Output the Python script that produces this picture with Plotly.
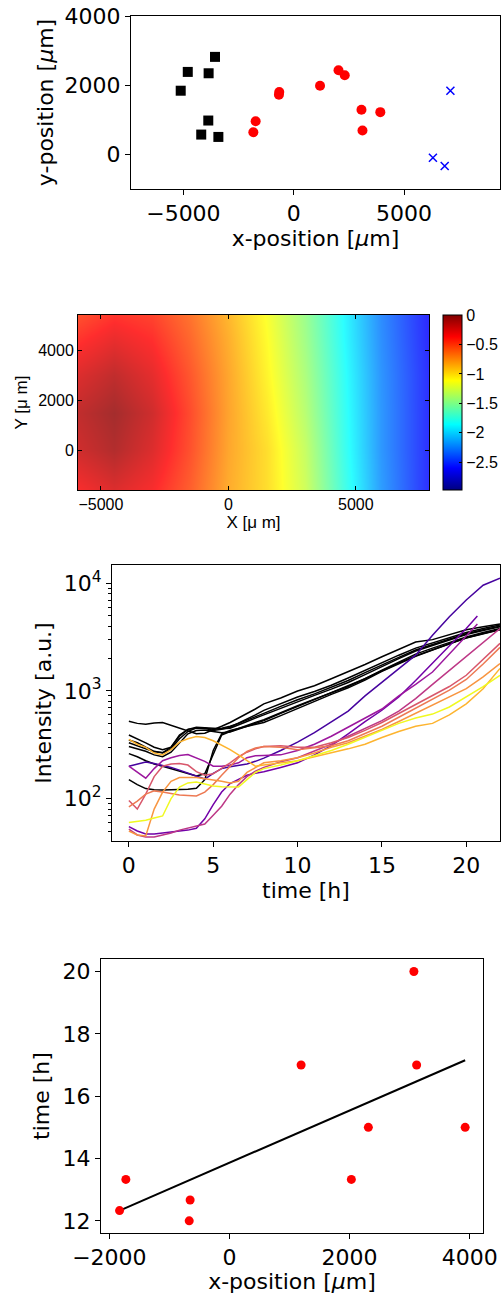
import numpy as np
import plotly.graph_objects as go

W, H = 504, 1294

# ---------------- Panel 1: positions ----------------
black_x = [-5122, -4802, -3567, -3857, -3872, -4192, -3415]
black_y = [1845, 2387, 2821, 2348, 985, 580, 512]
red_x = [-1830, -1725, -670, -655, 1193, 2030, 2313, 3071, 3117, 3925]
red_y = [647, 966, 1729, 1806, 1990, 2434, 2289, 1294, 696, 1227]
blue_x = [7102, 6309, 6843]
blue_y = [1845, -87, -328]

# ---------------- Panel 2: field ----------------
field_x = [-5900, -4500, -3000, -1500, 0, 1500, 3000, 4500, 6000, 7900]
field_y = [-1600, 0, 1500, 3000, 4500, 5400]
field_z = [
    [-0.35, -0.25, -0.35, -0.55, -0.82, -1.00, -1.28, -1.75, -2.20, -2.60],
    [-0.20, -0.10, -0.25, -0.50, -0.80, -1.00, -1.31, -1.78, -2.22, -2.60],
    [-0.15, -0.05, -0.20, -0.48, -0.79, -1.04, -1.36, -1.80, -2.22, -2.60],
    [-0.25, -0.15, -0.28, -0.52, -0.80, -1.08, -1.40, -1.82, -2.23, -2.60],
    [-0.40, -0.30, -0.38, -0.58, -0.83, -1.11, -1.44, -1.85, -2.25, -2.62],
    [-0.50, -0.40, -0.45, -0.62, -0.86, -1.13, -1.46, -1.86, -2.26, -2.63],
]
cbar_ticks = [0, -0.5, -1, -1.5, -2, -2.5]
cbar_text = ["0", "\u22120.5", "\u22121", "\u22121.5", "\u22122", "\u22122.5"]

# ---------------- Panel 3: intensity traces ----------------
T = [0, 0.5, 1, 1.5, 2, 2.5, 3, 3.5, 4, 4.5, 5, 5.5, 6, 6.5, 7, 7.5, 8,
     9, 10, 11, 12, 13, 14, 15, 16, 17, 18, 19, 20, 21, 22]
T_short = T[:-2] + [20.66]

black_lines = [
    [524, 500, 490, 505, 510, 480, 445, 420, 400, 405, 440, 470, 510, 560, 620, 680, 760,
     860, 1000, 1120, 1300, 1500, 1760, 2080, 2450, 2850, 3000, 3350, 3700, 3950, 4200],
    [390, 360, 330, 300, 285, 300, 380, 440, 450, 450, 440, 450, 470, 500, 540, 580, 620,
     720, 830, 940, 1080, 1250, 1480, 1750, 2050, 2400, 2700, 3050, 3400, 3700, 4000],
    [350, 330, 300, 275, 265, 290, 360, 420, 455, 450, 430, 440, 460, 500, 545, 600, 660,
     760, 880, 990, 1130, 1320, 1550, 1850, 2150, 2500, 2800, 3150, 3500, 3800, 4100],
    [330, 310, 290, 272, 268, 300, 390, 440, 460, 455, 445, 445, 450, 480, 520, 560, 600,
     700, 800, 910, 1040, 1200, 1420, 1700, 2000, 2350, 2650, 3000, 3350, 3650, 3950],
    [305, 290, 275, 255, 245, 270, 330, 400, 430, 435, 420, 410, 415, 440, 470, 500, 530,
     620, 720, 830, 960, 1110, 1300, 1560, 1850, 2200, 2500, 2820, 3180, 3500, 3800],
    [262, 245, 225, 210, 200, 190, 180, 170, 162, 170, 260, 390, 420, 450, 480, 510, 540,
     630, 730, 840, 960, 1100, 1300, 1550, 1820, 2120, 2420, 2750, 3100, 3400, 3700],
    [150, 135, 124, 121, 120, 121, 122, 122, 125, 150, 280, 400, 430, 450, 470, 490, 510,
     590, 690, 800, 930, 1070, 1260, 1520, 1800, 2100, 2400, 2750, 3120, 3420, 3720],
]

color_lines = [
    [200, 210, 219, 212, 204, 195, 184, 172, 160, 152, 172, 190, 198, 203, 210, 222, 238,
     280, 335, 410, 520, 650, 900, 1200, 1620, 2150, 3300, 4900, 7000, 9600, 11150],
    [55, 50, 47, 47, 48, 49, 50, 51, 53, 65, 88, 115, 138, 152, 165, 172, 178,
     195, 215, 255, 310, 400, 520, 662, 880, 1250, 1800, 2600, 3800, 4970],
    [200, 175, 155, 190, 225, 240, 252, 257, 240, 222, 200, 200, 205, 215, 240, 250, 252,
     255, 280, 320, 380, 463, 560, 680, 900, 1150, 1500, 2200, 3200, 4180],
    [52, 46, 44, 44, 46, 48, 51, 53, 55, 58, 70, 85, 110, 135, 160, 180, 195,
     220, 240, 275, 320, 380, 450, 530, 650, 850, 1150, 1550, 2050, 2800, 3800],
    [96, 80, 110, 160, 200, 210, 212, 205, 178, 165, 170, 190, 215, 245, 270, 290, 305,
     310, 300, 300, 330, 370, 430, 510, 620, 750, 900, 1100, 1400, 1950, 2770],
    [84, 95, 110, 118, 115, 112, 108, 107, 106, 115, 135, 165, 200, 240, 275, 295, 305,
     300, 285, 295, 310, 345, 400, 470, 570, 690, 840, 1020, 1280, 1780, 2540],
    [50, 46, 45, 80, 115, 145, 157, 157, 157, 153, 150, 145, 140, 145, 175, 195, 215,
     225, 240, 265, 300, 330, 380, 440, 520, 620, 740, 880, 1050, 1350, 1800],
    [355, 320, 299, 265, 255, 285, 335, 360, 378, 370, 345, 315, 285, 255, 225, 200, 205,
     215, 225, 245, 265, 290, 320, 370, 420, 470, 500, 600, 760, 1050, 1620],
    [60, 61, 63, 66, 69, 100, 128, 140, 143, 137, 131, 129, 128, 128, 150, 175, 190,
     205, 225, 250, 280, 320, 370, 430, 500, 560, 610, 710, 880, 1100, 1400],
]
color_line_colors = ["#46039f", "#7201a8", "#9c179e", "#bd3786", "#d8576b",
                     "#ed7953", "#f89540", "#fdb42f", "#f0f921"]
log_minor = [50, 60, 70, 80, 90, 200, 300, 400, 500, 600, 700, 800, 900,
             2000, 3000, 4000, 5000, 6000, 7000, 8000, 9000]

# ---------------- Panel 4: onset time vs x ----------------
onset_x = red_x
onset_t = [12.33, 13.33, 12.0, 12.67, 17.0, 13.33, 15.0, 20.0, 17.0, 15.0]

# ---------------- figure ----------------
fig = go.Figure()
FONT = "DejaVu Sans, sans-serif"
FS = 22

def dom_x(a, b):
    return [a / W, b / W]

def dom_y(top, bottom):
    return [1 - bottom / H, 1 - top / H]

# Panel 1
fig.add_trace(go.Scatter(x=black_x, y=black_y, mode="markers", xaxis="x", yaxis="y",
                         marker=dict(symbol="square", size=10, color="black"), showlegend=False))
fig.add_trace(go.Scatter(x=red_x, y=red_y, mode="markers", xaxis="x", yaxis="y",
                         marker=dict(symbol="circle", size=10, color="red"), showlegend=False))
fig.add_trace(go.Scatter(x=blue_x, y=blue_y, mode="markers", xaxis="x", yaxis="y",
                         marker=dict(symbol="x-thin", size=8, color="blue",
                                     line=dict(color="blue", width=1.5)), showlegend=False))

# Panel 2
jet = [[0.0, "rgb(0,0,128)"], [0.125, "rgb(0,0,255)"], [0.375, "rgb(0,255,255)"],
       [0.625, "rgb(255,255,0)"], [0.875, "rgb(255,0,0)"], [1.0, "rgb(128,0,0)"]]
fig.add_trace(go.Heatmap(x=field_x, y=field_y, z=field_z, xaxis="x2", yaxis="y2",
                         colorscale=jet, zmin=-2.97, zmax=0, zsmooth="best", opacity=0.82,
                         colorbar=dict(x=443 / W, xanchor="left", xpad=0,
                                       y=1 - 402.5 / H, yanchor="middle", ypad=0,
                                       lenmode="pixels", len=175, thicknessmode="pixels",
                                       thickness=19, outlinewidth=1, outlinecolor="black",
                                       tickvals=cbar_ticks, ticktext=cbar_text,
                                       ticks="inside", ticklen=3, tickcolor="black",
                                       tickfont=dict(family="Liberation Sans, Arial", size=16,
                                                     color="black"))))

# Panel 3
for vals in black_lines:
    fig.add_trace(go.Scatter(x=T, y=vals, mode="lines", xaxis="x3", yaxis="y3",
                             line=dict(color="black", width=1.5), showlegend=False))
for vals, col in zip(color_lines, color_line_colors):
    tt = T if len(vals) == len(T) else T_short
    fig.add_trace(go.Scatter(x=tt, y=vals, mode="lines", xaxis="x3", yaxis="y3",
                             line=dict(color=col, width=1.5), showlegend=False))

# Panel 4
coef = np.polyfit(onset_x, onset_t, 1)
fit_x = [min(onset_x), max(onset_x)]
fit_y = list(np.polyval(coef, fit_x))
fig.add_trace(go.Scatter(x=fit_x, y=fit_y, mode="lines", xaxis="x4", yaxis="y4",
                         line=dict(color="black", width=2), showlegend=False))
fig.add_trace(go.Scatter(x=onset_x, y=onset_t, mode="markers", xaxis="x4", yaxis="y4",
                         marker=dict(symbol="circle", size=9, color="red"), showlegend=False))

mpl_ax = dict(showline=True, linecolor="black", linewidth=1, mirror=True, ticks="outside",
              ticklen=5, tickwidth=1, tickcolor="black", showgrid=False, zeroline=False,
              tickfont=dict(family=FONT, size=FS, color="black"), automargin=False)
mat_ax = dict(showline=True, linecolor="black", linewidth=1, mirror="ticks", ticks="inside",
              ticklen=4, tickwidth=1, tickcolor="black", showgrid=False, zeroline=False,
              tickfont=dict(family="Liberation Sans, Arial", size=16, color="black"),
              automargin=False)

def ttl(text, size=FS, family=FONT, standoff=None):
    d = dict(text=text, font=dict(family=family, size=size, color="black"))
    if standoff is not None:
        d["standoff"] = standoff
    return d

fig.update_layout(
    width=W, height=H, margin=dict(l=0, r=0, t=0, b=0),
    paper_bgcolor="white", plot_bgcolor="white", showlegend=False,
    xaxis=dict(domain=dom_x(131, 500), range=[-7375, 9350], tickvals=[-5000, 0, 5000],
               ticktext=["\u22125000", "0", "5000"], anchor="y",
               title=ttl("x-position [<i>\u03bc</i>m]", standoff=2), **mpl_ax),
    yaxis=dict(domain=dom_y(16, 189), range=[-990, 4000], tickvals=[0, 2000, 4000],
               anchor="x", title=ttl("y-position [<i>\u03bc</i>m]", standoff=4), **mpl_ax),
    xaxis2=dict(domain=dom_x(78, 429), range=[-5900, 7870], tickvals=[-5000, 0, 5000],
                ticktext=["\u22125000", "0", "5000"], anchor="y2",
                title=ttl("X [\u03bc m]", size=17, family="Liberation Sans, Arial", standoff=0),
                **mat_ax),
    yaxis2=dict(domain=dom_y(315, 490), range=[-1600, 5400], tickvals=[0, 2000, 4000],
                anchor="x2",
                title=ttl("Y [\u03bc m]", size=17, family="Liberation Sans, Arial", standoff=6),
                **mat_ax),
    xaxis3=dict(domain=dom_x(112, 500), range=[-1, 22], tickvals=[0, 5, 10, 15, 20],
                anchor="y3", title=ttl("time [h]", standoff=2), **mpl_ax),
    yaxis3=dict(domain=dom_y(565, 841), type="log", range=[np.log10(40.4), np.log10(14800)],
                tickvals=[100, 1000, 10000],
                ticktext=["10<sup>2</sup>", "10<sup>3</sup>", "10<sup>4</sup>"],
                minor=dict(ticks="outside", ticklen=3, tickcolor="black", showgrid=False,
                           tickvals=log_minor),
                anchor="x3", title=ttl("Intensity [a.u.]", standoff=6), **mpl_ax),
    xaxis4=dict(domain=dom_x(101, 483), range=[-2139, 4222],
                tickvals=[-2000, 0, 2000, 4000],
                ticktext=["\u22122000", "0", "2000", "4000"], anchor="y4",
                title=ttl("x-position [<i>\u03bc</i>m]", standoff=2), **mpl_ax),
    yaxis4=dict(domain=dom_y(959, 1233), range=[11.61, 20.4], tickvals=[12, 14, 16, 18, 20],
                anchor="x4", title=ttl("time [h]", standoff=6), **mpl_ax),
)

fig.write_html("out.html", config={"displayModeBar": False},
               post_script="document.body.style.margin='0';document.body.style.padding='0';"
                           "document.body.style.overflow='hidden';")
